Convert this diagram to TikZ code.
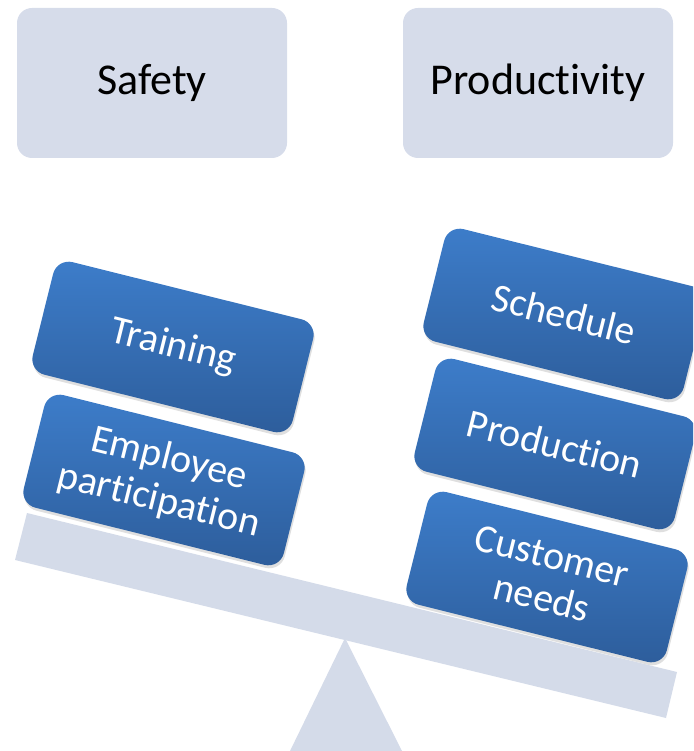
\documentclass[tikz,border=0pt]{standalone}
\usepackage{fontspec}
\setmainfont[Ligatures=NoCommon]{Carlito}
\usetikzlibrary{shadows}
\definecolor{paleblue}{HTML}{D4DBE9}
\definecolor{topbox}{HTML}{D6DCEA}
\definecolor{bluetop}{HTML}{3D7DCA}
\definecolor{bluebot}{HTML}{2D5D9B}
\tikzset{
  headbox/.style={fill=topbox, rounded corners=15pt, minimum width=270pt, minimum height=150pt, font=\fontsize{44}{48}\selectfont, text=black},
  weight/.style={rounded corners=16pt, minimum width=268pt, minimum height=116pt, top color=bluetop, bottom color=bluebot, rotate=-14, text=white, align=center, font=\fontsize{40}{43}\selectfont, drop shadow={opacity=0.25, shadow xshift=1pt, shadow yshift=-3pt}},
}
\begin{document}
\begin{tikzpicture}[x=1pt,y=-1pt]
\useasboundingbox (0,0) rectangle (693,751);
\clip (0,0) rectangle (693,751);
% fulcrum and beam
\fill[paleblue] (345,638) -- (402,751) -- (290,751) -- cycle;
\fill[paleblue] (27,513) -- (677,672) -- (666,718) -- (15,560) -- cycle;
% headings
\node[headbox] (safety) at (152,83) {Safety};
\node[headbox] (prod) at (538,83) {Productivity};
% weights
\node[weight] (training) at (173,347) {Training};
\node[weight] (employee) at (164,480) {Employee\\participation};
\node[weight] (schedule) at (564,314) {Schedule};
\node[weight] (production) at (555,444) {Production};
\node[weight] (customer) at (547,577) {Customer\\needs};
\end{tikzpicture}
\end{document}
